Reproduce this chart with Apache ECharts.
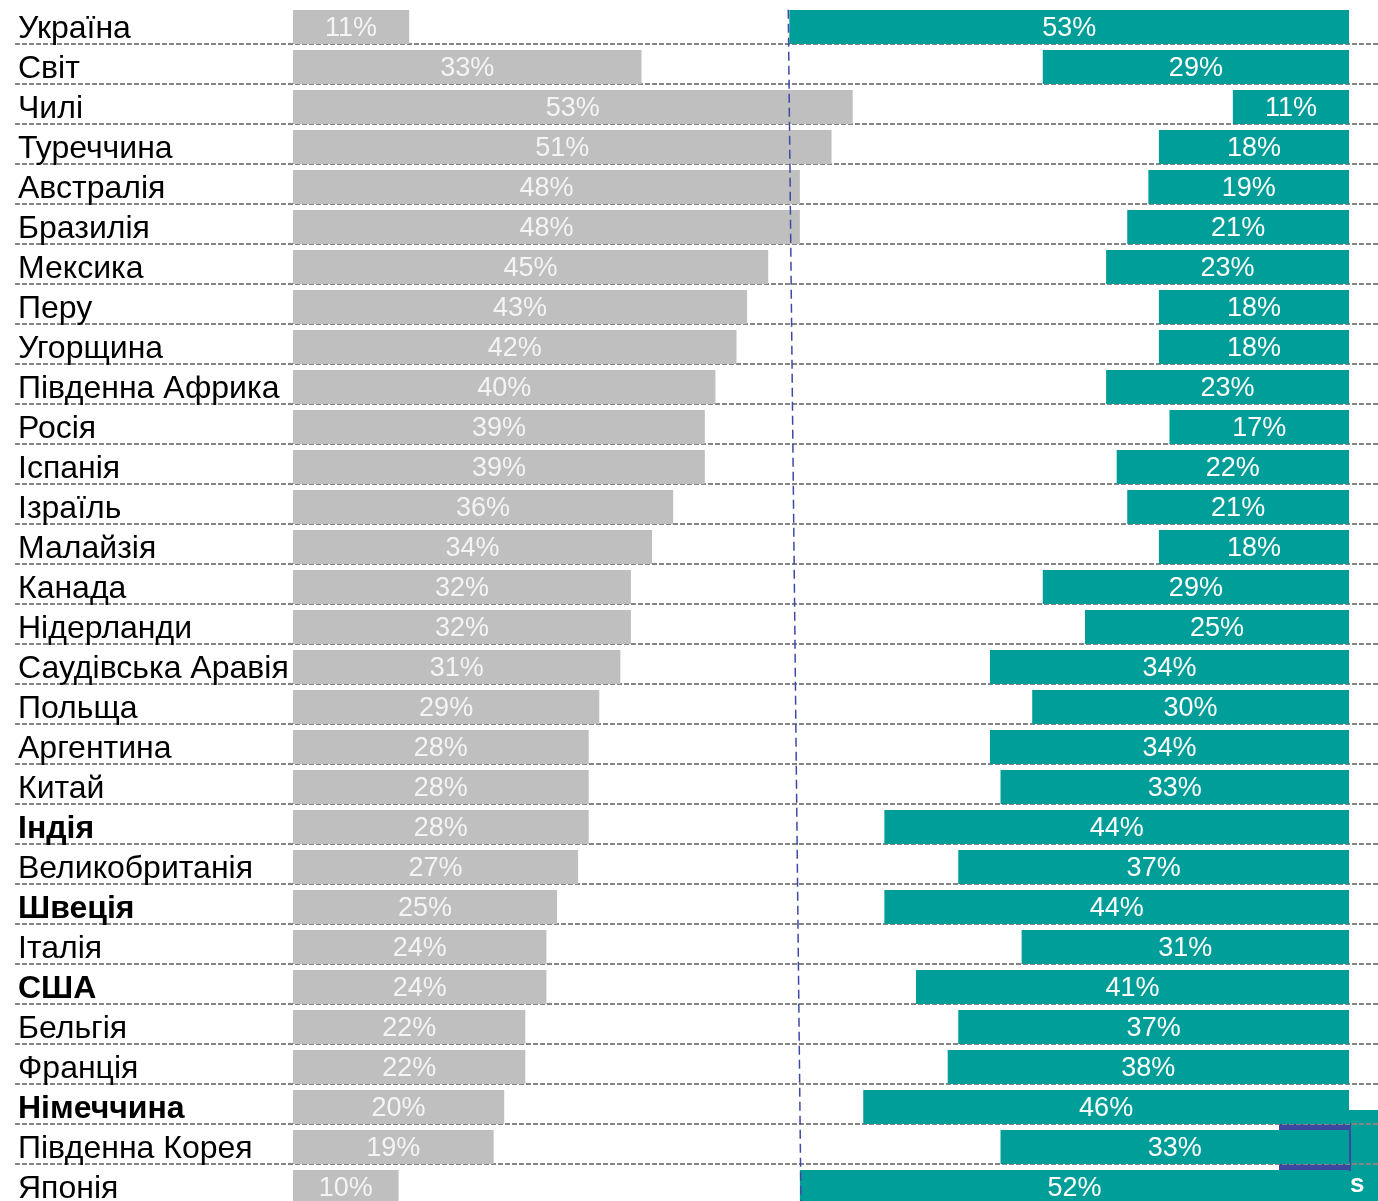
<!DOCTYPE html>
<html>
<head>
<meta charset="utf-8">
<script src="https://cdn.jsdelivr.net/npm/echarts@6/dist/echarts.min.js"></script>
<style>
	html, body { margin: 0; padding: 0; background: #fff; overflow: hidden; }
	#chart { width: 1378px; height: 1260px; }
</style>
</head>
<body>
<div id="chart"></div>
<script>
var countries = ['Україна', 'Світ', 'Чилі', 'Туреччина', 'Австралія', 'Бразилія', 'Мексика', 'Перу',
	'Угорщина', 'Південна Африка', 'Росія', 'Іспанія', 'Ізраїль', 'Малайзія', 'Канада', 'Нідерланди',
	'Саудівська Аравія', 'Польща', 'Аргентина', 'Китай', 'Індія', 'Великобританія', 'Швеція', 'Італія',
	'США', 'Бельгія', 'Франція', 'Німеччина', 'Південна Корея', 'Японія'];
var boldCountries = ['Індія', 'Швеція', 'США', 'Німеччина'];

// left (grey) and right (teal) shares, %
var greyValues = [11, 33, 53, 51, 48, 48, 45, 43, 42, 40, 39, 39, 36, 34, 32, 32, 31, 29, 28, 28, 28, 27, 25, 24, 24, 22, 22, 20, 19, 10];
var tealValues = [53, 29, 11, 18, 19, 21, 23, 18, 18, 23, 17, 22, 21, 18, 29, 25, 34, 30, 34, 33, 44, 37, 44, 31, 41, 37, 38, 46, 33, 52];

// dashed guide line: % on the grey scale at its top and bottom ends
var guideLine = [[46.9, -0.43], [48.1, 29.4]];

var chart = document.getElementById('chart');
var myChart = echarts.init(chart, null, {renderer: 'canvas'});

var fontName = 'Liberation Sans, Arial, sans-serif';

var options = {
	animation: false,
	grid: [
		{left: 293, right: 29, top: 7, height: 1200},
		{left: 15, right: 0, top: 44, height: 1200}
	],
	xAxis: [
		{type: 'value', gridIndex: 0, min: 0, max: 100, show: false},
		{type: 'value', gridIndex: 0, min: 0, max: 100, inverse: true, show: false},
		{type: 'value', gridIndex: 1, min: 0, max: 1, show: false}
	],
	yAxis: [
		{
			type: 'category',
			gridIndex: 0,
			data: countries,
			inverse: true,
			axisLine: {show: false},
			axisTick: {show: false},
			splitLine: {show: false},
			axisLabel: {
				interval: 0,
				align: 'left',
				margin: 275,
				padding: [4, 0, 0, 0],
				fontFamily: fontName,
				fontSize: 32,
				color: '#000',
				formatter: function(v){
					if(boldCountries.indexOf(v) > -1)
						return '{b|' + v + '}';
					return v;
				},
				rich: {
					b: {fontWeight: 'bold', fontSize: 32, fontFamily: fontName, color: '#000'}
				}
			}
		},
		{type: 'value', gridIndex: 0, min: -0.5, max: 29.5, inverse: true, show: false},
		{
			type: 'value',
			gridIndex: 1,
			min: 0,
			max: 30,
			interval: 1,
			inverse: true,
			axisLine: {show: false},
			axisTick: {show: false},
			axisLabel: {show: false},
			splitLine: {
				show: true,
				lineStyle: {color: '#858585', width: 2, type: [5, 2]}
			}
		}
	],
	graphic: [
		{type: 'rect', z: -10, shape: {x: 1279, y: 1110, width: 110, height: 100}, style: {fill: '#009e99'}},
		{type: 'rect', z: -9, shape: {x: 1279, y: 1123, width: 72, height: 48}, style: {fill: '#3c47a0'}},
		{type: 'text', z: -8, style: {x: 1334, y: 1172, text: 'os', fill: '#fff', font: 'bold 26px ' + fontName}}
	],
	series: [
		{
			name: 'grey',
			type: 'bar',
			xAxisIndex: 0,
			yAxisIndex: 0,
			data: greyValues,
			barWidth: 34,
			barGap: '-100%',
			itemStyle: {color: '#bfbfbf'},
			label: {
				show: true,
				position: 'inside',
				offset: [0, 2],
				formatter: '{c}%',
				color: '#f4f4f4',
				fontFamily: fontName,
				fontSize: 27
			},
			z: 3
		},
		{
			name: 'teal',
			type: 'bar',
			xAxisIndex: 1,
			yAxisIndex: 0,
			data: tealValues,
			barWidth: 34,
			barGap: '-100%',
			itemStyle: {color: '#009e99'},
			label: {
				show: true,
				position: 'inside',
				offset: [0, 2],
				formatter: '{c}%',
				color: '#fff',
				fontFamily: fontName,
				fontSize: 27
			},
			z: 3
		},
		{
			name: 'guide',
			type: 'line',
			xAxisIndex: 0,
			yAxisIndex: 1,
			data: guideLine,
			symbol: 'none',
			lineStyle: {color: '#3c4aa5', width: 1.5, type: [9, 5]},
			z: 5
		}
	]
};

myChart.setOption(options);
</script>
</body>
</html>
